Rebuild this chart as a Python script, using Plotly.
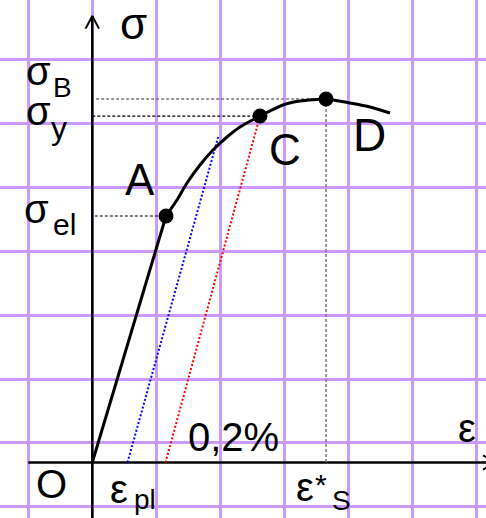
import plotly.graph_objects as go

# Stress-strain diagram in grid units (1 unit = one grid cell)
# Elastic range O -> A
elastic_eps = [0.0, 1.152]
elastic_sig = [0.0, 3.852]

# Plastic range A -> C -> D -> end of curve
plastic_eps = [1.152, 1.323, 1.480, 1.683, 1.886, 2.105, 2.308, 2.620,
               2.980, 3.245, 3.652, 4.027, 4.339, 4.652]
plastic_sig = [3.852, 4.102, 4.367, 4.648, 4.883, 5.086, 5.242, 5.414,
               5.586, 5.648, 5.680, 5.617, 5.555, 5.461]

# Marked points
point_names = ["A", "C", "D"]
point_eps = [1.152, 2.620, 3.652]
point_sig = [3.852, 5.414, 5.680]

# Characteristic values
sigma_el = 3.852
sigma_y = 5.414
sigma_B = 5.680
eps_S = 3.652
eps_pl = 0.55
eps_offset = 1.144          # 0,2 % offset strain

# Unloading line from the plastic range (blue)
unload_eps = [eps_pl, 1.967]
unload_sig = [0.0, 5.086]
# Offset line for the 0,2 % yield strength (red)
offset_eps = [eps_offset, 2.620]
offset_sig = [0.0, sigma_y]

# Axis extents
x_axis_eps = [-1.0, 6.35]
y_axis_sig = [-0.90, 6.977]
arrow_up_eps = [-0.105, 0.0, 0.105]
arrow_up_sig = [6.78, 6.977, 6.78]
arrow_right_eps = [6.105, 6.31, 6.105]
arrow_right_sig = [0.11, 0.0, -0.11]

GRID = "#cc99ff"
FONT = "Liberation Sans, Arial, sans-serif"

fig = go.Figure()


def line(x, y, color="black", width=2.5, dash=None):
    fig.add_trace(go.Scatter(x=x, y=y, mode="lines", hoverinfo="skip",
                             line=dict(color=color, width=width, dash=dash),
                             showlegend=False))


# axes with arrows
line(x_axis_eps, [0, 0], width=2.5)
line([0, 0], y_axis_sig, width=2.5)
line(arrow_up_eps, arrow_up_sig, width=2)
line(arrow_right_eps, arrow_right_sig, width=2)

# helper lines
line([0.04, point_eps[0]], [sigma_el, sigma_el], width=1.2, dash="3px,2px")
line([0.0, point_eps[1]], [sigma_y, sigma_y], width=1.2, dash="3px,2px")
line([0.06, point_eps[2]], [sigma_B, sigma_B], color="#777777", width=1.5, dash="3px,2px")
line([eps_S, eps_S], [sigma_B, 0.0], color="#777777", width=1.5, dash="3px,2px")
line(unload_eps, unload_sig, color="blue", width=2, dash="2px,2px")
line(offset_eps, offset_sig, color="red", width=2, dash="2px,2px")

# stress-strain curve
line(elastic_eps, elastic_sig, width=3)
fig.add_trace(go.Scatter(x=plastic_eps, y=plastic_sig, mode="lines",
                         line=dict(color="black", width=3, shape="spline", smoothing=0.6),
                         hoverinfo="skip", showlegend=False))
fig.add_trace(go.Scatter(x=point_eps, y=point_sig, mode="markers",
                         marker=dict(color="black", size=15),
                         hoverinfo="skip", showlegend=False))

# labels: text, x, y, size, horizontal anchor
labels = [
    ("σ", 0.640, 6.855, 44, "center"),
    ("σ", -0.844, 6.11, 40, "center"), ("B", -0.640, 5.857, 28, "left"),
    ("σ", -0.844, 5.49, 40, "center"), ("y", -0.670, 5.22, 32, "left"),
    ("A", 0.745, 4.43, 44, "center"),
    ("σ", -0.872, 3.956, 40, "center"), ("el", -0.650, 3.717, 30, "left"),
    ("C", 3.006, 4.898, 44, "center"),
    ("D", 4.339, 5.117, 46, "center"),
    ("O", -0.640, -0.336, 40, "center"),
    ("ε", 0.417, -0.412, 40, "center"), ("pl", 0.620, -0.575, 28, "left"),
    ("0,2%", 2.214, 0.406, 40, "center"),
    ("ε", 3.323, -0.389, 40, "center"), ("*", 3.573, -0.343, 30, "center"),
    ("S", 3.897, -0.600, 28, "center"),
    ("ε", 5.855, 0.533, 40, "center"),
]
for text, x, y, size, anchor in labels:
    fig.add_annotation(x=x, y=y, text=text, showarrow=False,
                       xanchor=anchor, yanchor="middle",
                       font=dict(family=FONT, size=size, color="black"))

fig.update_layout(
    width=486, height=518, margin=dict(l=0, r=0, t=0, b=0),
    paper_bgcolor="white", plot_bgcolor="white",
    xaxis=dict(range=[-1.442, 6.152], tick0=0, dtick=1, showgrid=True,
               gridcolor=GRID, gridwidth=2.6, zeroline=False,
               showticklabels=False, ticks="", fixedrange=True),
    yaxis=dict(range=[-0.867, 7.227], tick0=0.305, dtick=1, showgrid=True,
               gridcolor=GRID, gridwidth=2.6, zeroline=False,
               showticklabels=False, ticks="", fixedrange=True),
)

fig.write_html("out.html")
